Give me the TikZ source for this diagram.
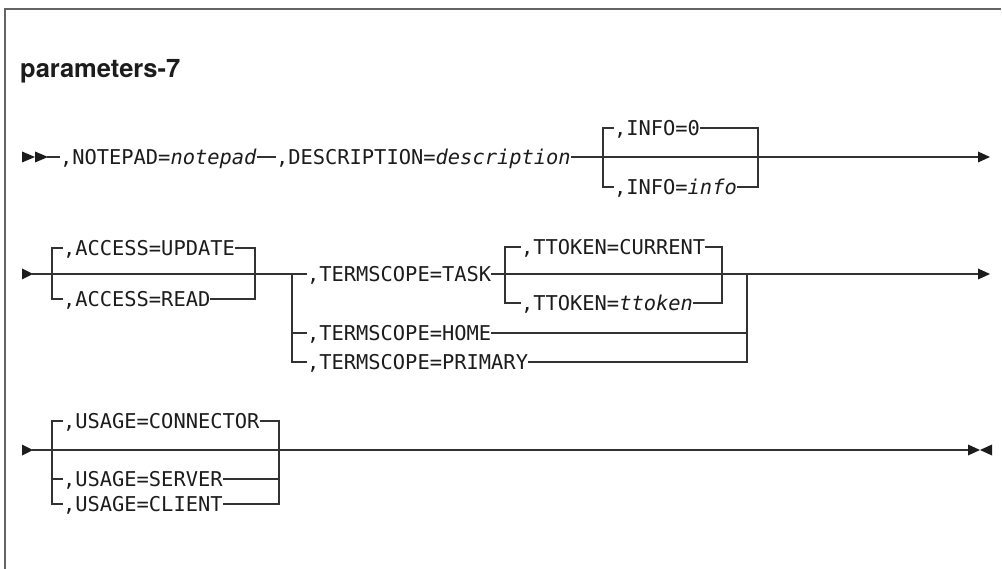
\documentclass[tikz,border=0pt]{standalone}
\usepackage{fontspec}
\newfontfamily\monof{DejaVu Sans Mono}
\newfontfamily\titlef{TeX Gyre Heros}
\definecolor{tc}{RGB}{28,28,28}
\definecolor{lc}{RGB}{50,50,50}
\definecolor{fc}{RGB}{100,100,100}
\tikzset{
  syn/.style={draw=lc, line width=1.3pt},
  kw/.style={font=\monof\fontsize{20.4}{24}\selectfont, text=tc, inner sep=0pt, outer sep=0pt,
             text height=14.9pt, text depth=0pt, anchor=west},
  ttl/.style={font=\titlef\bfseries\fontsize{25.5}{30}\selectfont, text=tc, inner sep=0pt, anchor=base west},
  framel/.style={draw=fc, line width=2pt},
  tipfill/.style={fill=tc, draw=none}
}
\begin{document}
\begin{tikzpicture}[x=1pt,y=-1pt]
\useasboundingbox (0,0) rectangle (1002,569);
\draw[framel] (5,569) -- (5,9) -- (1001,9);
\node[ttl] (title) at (20,78) {parameters-7};

% ---------- row 1 ----------
\fill[tipfill] (22,151.5) -- (35,157) -- (22,162.5) -- cycle;
\fill[tipfill] (35,151.5) -- (48,157) -- (35,162.5) -- cycle;
\coordinate (r1s) at (47,157);
\node[kw] (np) at (60,157) {,NOTEPAD=\textit{notepad}};
\node[kw] (ds) at (276,157) {,DESCRIPTION=\textit{description}};
\coordinate (d1) at (603,157);
\coordinate (d2) at (758,157);
\node[kw] (i0) at (614,128) {,INFO=0};
\node[kw] (ii) at (614,187) {,INFO=\textit{info}};
\coordinate (r1e) at (979,157);
\draw[syn] (r1s) -- (np.west);
\draw[syn] (np.east) -- (ds.west);
\draw[syn] (ds.east) -- (r1e);
\draw[syn] (i0.west) -| (d1) |- (ii.west);
\draw[syn] (i0.east) -| (d2) |- (ii.east);
\fill[tipfill] (978,151.5) -- (990,157) -- (978,162.5) -- cycle;

% ---------- row 2 ----------
\fill[tipfill] (22,268.5) -- (33,274) -- (22,279.5) -- cycle;
\coordinate (r2s) at (32,274);
\node[kw] (a1) at (63,248) {,ACCESS=UPDATE};
\node[kw] (a2) at (63,299) {,ACCESS=READ};
\coordinate (ac1) at (52,274);
\coordinate (ac2) at (255,274);
\coordinate (ts1) at (292,274);
\node[kw] (t1) at (307,274) {,TERMSCOPE=TASK};
\node[kw] (t2) at (307,333) {,TERMSCOPE=HOME};
\node[kw] (t3) at (307,362) {,TERMSCOPE=PRIMARY};
\coordinate (tk1) at (505,274);
\coordinate (tk2) at (722,274);
\node[kw] (k1) at (521,247) {,TTOKEN=CURRENT};
\node[kw] (k2) at (521,303) {,TTOKEN=\textit{ttoken}};
\coordinate (ts2) at (747,274);
\coordinate (r2e) at (979,274);
\draw[syn] (r2s) -- (t1.west);
\draw[syn] (a1.west) -| (ac1) |- (a2.west);
\draw[syn] (a1.east) -| (ac2) |- (a2.east);
\draw[syn] (ts1) |- (t3.west);
\draw[syn] (t2.west) -- (t2.west -| ts1);
\draw[syn] (t1.east) -- (r2e);
\draw[syn] (k1.west) -| (tk1) |- (k2.west);
\draw[syn] (k1.east) -| (tk2) |- (k2.east);
\draw[syn] (ts2) |- (t3.east);
\draw[syn] (t2.east) -- (t2.east -| ts2);
\fill[tipfill] (978,268.5) -- (990,274) -- (978,279.5) -- cycle;

% ---------- row 3 ----------
\fill[tipfill] (22,444.5) -- (33,450) -- (22,455.5) -- cycle;
\coordinate (r3s) at (32,450);
\node[kw] (u1) at (63,421) {,USAGE=CONNECTOR};
\node[kw] (u2) at (63,479) {,USAGE=SERVER};
\node[kw] (u3) at (63,504) {,USAGE=CLIENT};
\coordinate (us1) at (52,450);
\coordinate (us2) at (279,450);
\coordinate (th1) at (285,450);
\coordinate (th2) at (308,450);
\coordinate (r3e) at (969,450);
\draw[syn] (r3s) -- (r3e);
\draw[syn] (u1.west) -| (us1) |- (u3.west);
\draw[syn] (u2.west) -- (u2.west -| us1);
\draw[syn] (u1.east) -| (us2) |- (u3.east);
\draw[syn] (u2.east) -- (u2.east -| us2);
\draw[syn, line width=2.2pt] (th1) -- (th2);
\fill[tipfill] (968,444.5) -- (980,450) -- (968,455.5) -- cycle;
\fill[tipfill] (992,444.5) -- (980,450) -- (992,455.5) -- cycle;
\end{tikzpicture}
\end{document}
